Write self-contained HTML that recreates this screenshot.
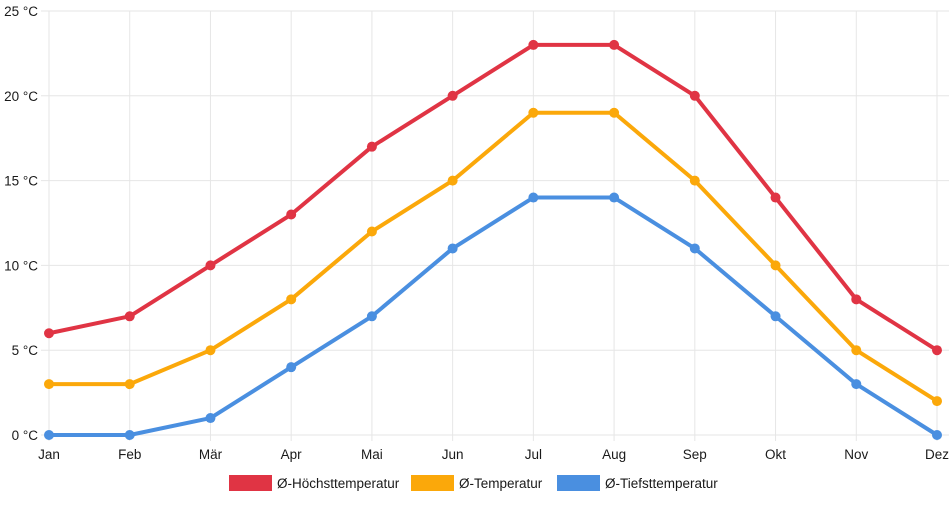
<!DOCTYPE html>
<html><head><meta charset="utf-8"><style>
body{margin:0;background:#fff;font-family:"Liberation Sans",sans-serif}
svg text{font-family:"Liberation Sans",sans-serif;font-size:13.5px;fill:#1a1a1a}
</style></head><body>
<svg width="952" height="500" xmlns="http://www.w3.org/2000/svg">
<g id="grid"></g>
<g id="axes"></g>
<g id="series"></g>
<g id="legend"></g>
</svg>
<script>
const months=["Jan","Feb","Mär","Apr","Mai","Jun","Jul","Aug","Sep","Okt","Nov","Dez"];
const yTicks=[0,5,10,15,20,25];
const highTemps=[6,7,10,13,17,20,23,23,20,14,8,5];
const avgTemps=[3,3,5,8,12,15,19,19,15,10,5,2];
const lowTemps=[0,0,1,4,7,11,14,14,11,7,3,0];
const seriesNames=["Ø-Höchsttemperatur","Ø-Temperatur","Ø-Tiefsttemperatur"];
const seriesColors=["#e03444","#fba80a","#4a8fe0"];
const NS="http://www.w3.org/2000/svg";
const x0=49,x1=937,y0=435,y1=11;
const xS=i=>x0+i*(x1-x0)/(months.length-1);
const yS=v=>y0-(v-0)*(y0-y1)/25;
function mk(t,a,p){const e=document.createElementNS(NS,t);for(const k in a)e.setAttribute(k,a[k]);p.appendChild(e);return e;}
const grid=document.getElementById('grid'),axes=document.getElementById('axes'),ser=document.getElementById('series'),leg=document.getElementById('legend');
yTicks.forEach(v=>{
 const l=mk('line',{x1:x0-8,x2:x1+12,y1:yS(v),y2:yS(v),stroke:'#e6e6e6','stroke-width':1},grid);
 
 
 const t=mk('text',{x:x0-11,y:yS(v)+5,'text-anchor':'end'},axes);t.textContent=v+' °C';
 
 
});
months.forEach((m,i)=>{
 const l=mk('line',{x1:xS(i),x2:xS(i),y1:y1,y2:y0+6,stroke:'#e6e6e6','stroke-width':1},grid);
 
 
 const t=mk('text',{x:xS(i),y:y0+24,'text-anchor':'middle'},axes);t.textContent=m;
 
 
});
[highTemps,avgTemps,lowTemps].forEach((d,s)=>{
 const g=mk('g',{},ser);
 
 
 const p=mk('polyline',{points:d.map((v,i)=>xS(i)+','+yS(v)).join(' '),fill:'none',stroke:seriesColors[s],'stroke-width':4,'stroke-linejoin':'round'},g);
 
 
 d.forEach((v,i)=>{const c=mk('circle',{cx:xS(i),cy:yS(v),r:5,fill:seriesColors[s]},g);
  
  });
});
const legX=[229,411,557];
seriesNames.forEach((n,s)=>{
 const g=mk('g',{},leg);
 
 
 mk('rect',{x:legX[s],y:475,width:43,height:16,fill:seriesColors[s]},g);
 const t=mk('text',{x:legX[s]+48,y:488},g);t.textContent=n;
});
</script>
</body></html>
